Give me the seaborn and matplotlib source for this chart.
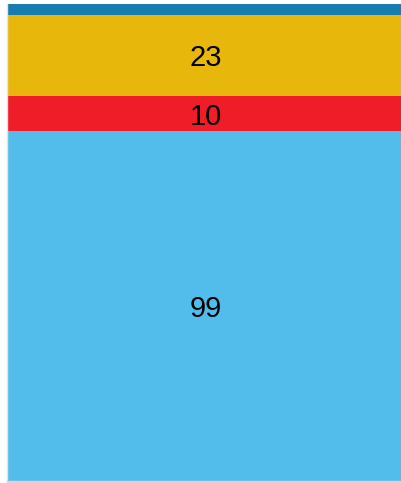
import matplotlib
matplotlib.use("Agg")
import matplotlib.pyplot as plt
import numpy as np
import pandas as pd
import seaborn as sns

# segments from bottom to top
segments = ["s1", "s2", "s3", "s4"]
values = [99, 10, 23, 3]
colors = ["#52BDEB", "#EF1D27", "#E8B70B", "#177DB0"]
show_label = [True, True, True, False]

sns.set_style("white")
plt.rcParams['font.family'] = ['Liberation Sans', 'DejaVu Sans']

fig = plt.figure(figsize=(4.02, 4.83), dpi=100)
ax = fig.add_axes([7.5 / 402, 1.5 / 483, 397 / 402, 477.5 / 483])

cum = np.cumsum(values)
# draw the cumulative totals from the tallest down so each bar covers the one below
for i in reversed(range(len(values))):
    df = pd.DataFrame({"cat": ["a"], "val": [cum[i]]})
    sns.barplot(data=df, x="cat", y="val", color=colors[i], saturation=1,
                width=1.0, ax=ax, linewidth=0)

bottoms = cum - np.array(values)
for i in range(len(values)):
    if show_label[i]:
        ax.text(0, bottoms[i] + values[i] / 2, str(values[i]), ha="center",
                va="center_baseline", fontsize=21, color="black")

ax.set_xlim(-0.5, 0.5)
ax.set_ylim(0, cum[-1])
ax.set_xticks([])
ax.set_yticks([])
ax.set_xlabel("")
ax.set_ylabel("")
for s in ["top", "right"]:
    ax.spines[s].set_visible(False)
ax.spines["left"].set_color("#E3E3E3")
ax.spines["left"].set_linewidth(1)
ax.spines["bottom"].set_color("#D4D4D4")
ax.spines["bottom"].set_linewidth(2.5)

fig.savefig("out.png", dpi=100)
